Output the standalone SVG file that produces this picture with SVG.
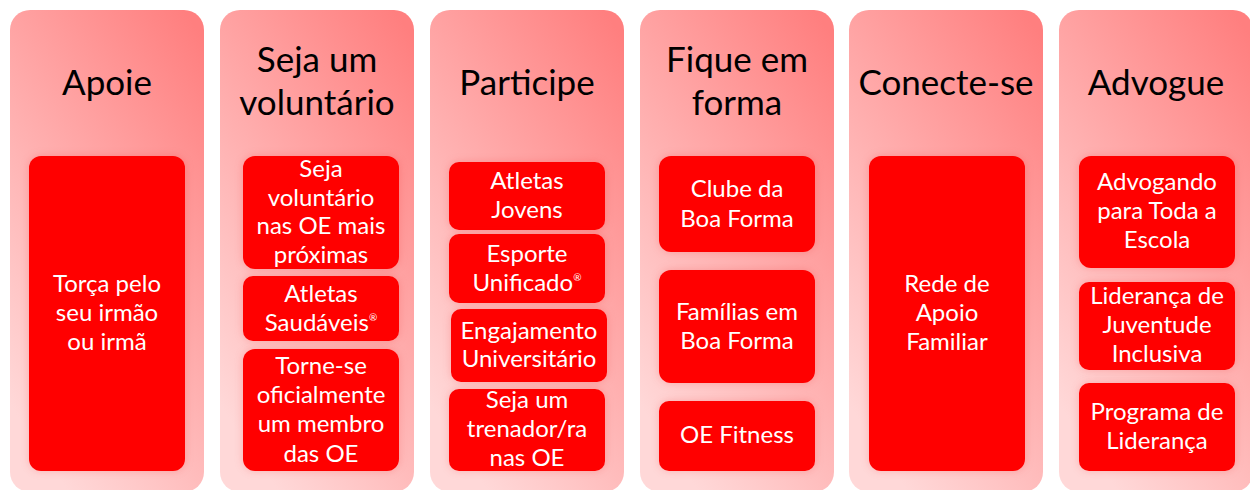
<svg xmlns="http://www.w3.org/2000/svg" width="1250" height="490" viewBox="0 0 1250 490">
<style>
.col{fill:url(#bg);}
.box{fill:#ff0000;filter:url(#glow);}
.t{font-family:Lato,"Open Sans",sans-serif;font-size:35px;fill:#000;text-anchor:middle;}
.b{font-family:Lato,"Open Sans",sans-serif;font-size:24px;fill:#fff;text-anchor:middle;}
.r{font-size:10px;}
</style>
<defs>
<linearGradient id="bg" x1="0.9" y1="0" x2="0.3" y2="1">
<stop offset="0" stop-color="#ff7f7f"/>
<stop offset="1" stop-color="#ffd8d8"/>
</linearGradient>
<filter id="glow" x="-20%" y="-20%" width="140%" height="140%">
<feDropShadow dx="0" dy="0" stdDeviation="4" flood-color="#e00000" flood-opacity="0.18"/>
</filter>
</defs>
<g id="col-apoie">
<rect class="col" x="10" y="10" width="194" height="482" rx="20"/>
<text class="t" x="107" y="95">Apoie</text>
<g id="n-torca">
<rect class="box" x="29" y="156" width="156" height="315" rx="12"/>
<text class="b" x="107" y="292">Torça pelo</text>
<text class="b" x="107" y="321">seu irmão</text>
<text class="b" x="107" y="350">ou irmã</text>
</g>
</g>
<g id="col-voluntario">
<rect class="col" x="220" y="10" width="194" height="482" rx="20"/>
<text class="t" x="317" y="72">Seja um</text>
<text class="t" x="317" y="115">voluntário</text>
<g id="n-seja-vol">
<rect class="box" x="243" y="156" width="156" height="113" rx="12"/>
<text class="b" x="321" y="177">Seja</text>
<text class="b" x="321" y="206">voluntário</text>
<text class="b" x="321" y="234">nas OE mais</text>
<text class="b" x="321" y="263">próximas</text>
</g>
<g id="n-atletas-saud">
<rect class="box" x="243" y="276" width="156" height="65" rx="10"/>
<text class="b" x="321" y="302">Atletas</text>
<text class="b" x="321" y="331">Saudáveis<tspan class="r" dy="-10">®</tspan></text>
</g>
<g id="n-torne-se">
<rect class="box" x="243" y="349" width="156" height="122" rx="12"/>
<text class="b" x="321" y="374">Torne-se</text>
<text class="b" x="321" y="403">oficialmente</text>
<text class="b" x="321" y="432">um membro</text>
<text class="b" x="321" y="462">das OE</text>
</g>
</g>
<g id="col-participe">
<rect class="col" x="430" y="10" width="194" height="482" rx="20"/>
<text class="t" x="527" y="95">Participe</text>
<g id="n-atletas-jovens">
<rect class="box" x="449" y="162" width="156" height="68" rx="10"/>
<text class="b" x="527" y="189">Atletas</text>
<text class="b" x="527" y="218">Jovens</text>
</g>
<g id="n-esporte">
<rect class="box" x="449" y="234" width="156" height="69" rx="10"/>
<text class="b" x="527" y="262">Esporte</text>
<text class="b" x="527" y="291">Unificado<tspan class="r" dy="-10">®</tspan></text>
</g>
<g id="n-engajamento">
<rect class="box" x="451" y="309" width="156" height="73" rx="10"/>
<text class="b" x="529" y="339">Engajamento</text>
<text class="b" x="529" y="367">Universitário</text>
</g>
<g id="n-treinador">
<rect class="box" x="449" y="389" width="156" height="82" rx="10"/>
<text class="b" x="527" y="408">Seja um</text>
<text class="b" x="527" y="437">trenador/ra</text>
<text class="b" x="527" y="466">nas OE</text>
</g>
</g>
<g id="col-fique">
<rect class="col" x="640" y="10" width="194" height="482" rx="20"/>
<text class="t" x="737" y="72">Fique em</text>
<text class="t" x="737" y="115">forma</text>
<g id="n-clube">
<rect class="box" x="659" y="156" width="156" height="96" rx="12"/>
<text class="b" x="737" y="197">Clube da</text>
<text class="b" x="737" y="227">Boa Forma</text>
</g>
<g id="n-familias">
<rect class="box" x="659" y="270" width="156" height="113" rx="12"/>
<text class="b" x="737" y="320">Famílias em</text>
<text class="b" x="737" y="349">Boa Forma</text>
</g>
<g id="n-fitness">
<rect class="box" x="659" y="401" width="156" height="70" rx="10"/>
<text class="b" x="737" y="443">OE Fitness</text>
</g>
</g>
<g id="col-conecte">
<rect class="col" x="849" y="10" width="194" height="482" rx="20"/>
<text class="t" x="946" y="95">Conecte-se</text>
<g id="n-rede">
<rect class="box" x="869" y="156" width="156" height="315" rx="12"/>
<text class="b" x="947" y="292">Rede de</text>
<text class="b" x="947" y="321">Apoio</text>
<text class="b" x="947" y="350">Familiar</text>
</g>
</g>
<g id="col-advogue">
<rect class="col" x="1059" y="10" width="194" height="482" rx="20"/>
<text class="t" x="1156" y="95">Advogue</text>
<g id="n-advogando">
<rect class="box" x="1079" y="156" width="156" height="112" rx="12"/>
<text class="b" x="1157" y="190">Advogando</text>
<text class="b" x="1157" y="219">para Toda a</text>
<text class="b" x="1157" y="248">Escola</text>
</g>
<g id="n-lideranca-juv">
<rect class="box" x="1079" y="282" width="156" height="88" rx="10"/>
<text class="b" x="1157" y="304">Liderança de</text>
<text class="b" x="1157" y="333">Juventude</text>
<text class="b" x="1157" y="362">Inclusiva</text>
</g>
<g id="n-programa">
<rect class="box" x="1079" y="383" width="156" height="88" rx="10"/>
<text class="b" x="1157" y="420">Programa de</text>
<text class="b" x="1157" y="449">Liderança</text>
</g>
</g>
<g id="connectors"/>
</svg>
